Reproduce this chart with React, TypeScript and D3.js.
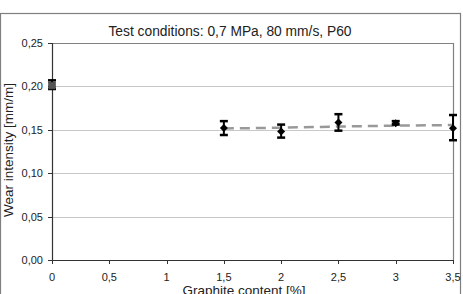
import React from "react";
import * as d3 from "d3";

const title = "Test conditions: 0,7 MPa, 80 mm/s, P60";
const xLabel = "Graphite content [%]";
const yLabel = "Wear intensity [mm/m]";

const xTicks = [0, 0.5, 1, 1.5, 2, 2.5, 3, 3.5];
const yTicks = [0, 0.05, 0.1, 0.15, 0.2, 0.25];

// reference sample (no graphite)
const refX = [0];
const refY = [0.201];
const refLow = [0.197];
const refHigh = [0.207];

// graphite samples
const gX = [1.5, 2, 2.5, 3, 3.5];
const gY = [0.152, 0.148, 0.1585, 0.1575, 0.1517];
const gLow = [0.144, 0.141, 0.149, 0.156, 0.138];
const gHigh = [0.160, 0.156, 0.168, 0.160, 0.167];

// trend line values
const trendX = [1.5, 2, 2.5, 3, 3.5];
const trendY = [0.1515, 0.1524, 0.1538, 0.1548, 0.1555];

const fmt = (v: number) => v.toFixed(2).replace(".", ",");
const fmtX = (v: number) => String(v).replace(".", ",");

export default function App() {
  const W = 463, H = 294;
  const L = 52, R = 453, T = 43, B = 260;
  const x = d3.scaleLinear().domain([0, 3.5]).range([L, R]);
  const y = d3.scaleLinear().domain([0, 0.25]).range([B, T]);
  const font = "Liberation Sans, Arial, sans-serif";

  const line = d3.line<number>().x((_, i) => x(trendX[i])).y((d) => y(d));

  const errBar = (xv: number, lo: number, hi: number, key: string) => {
    const cx = x(xv);
    return (
      <g key={key} stroke="#000" strokeWidth={2}>
        <line x1={cx} x2={cx} y1={y(lo)} y2={y(hi)} />
        <line x1={cx - 4} x2={cx + 4} y1={y(lo)} y2={y(lo)} strokeWidth={2.5} />
        <line x1={cx - 4} x2={cx + 4} y1={y(hi)} y2={y(hi)} strokeWidth={2.5} />
      </g>
    );
  };

  return (
    <svg width={W} height={H} style={{ position: "absolute", left: 0, top: 0, background: "#fff" }} fontFamily={font}>
      <rect x={0.5} y={13.5} width={460} height={300} fill="#fff" stroke="#7f7f7f" strokeWidth={1.2} />
      {/* gridlines */}
      {yTicks.filter((t) => t > 0 && t < 0.25).map((t) => (
        <line key={t} x1={L} x2={R} y1={Math.round(y(t)) + 0.5} y2={Math.round(y(t)) + 0.5} stroke="#c8c8c8" strokeWidth={1} />
      ))}
      {/* plot border top/right */}
      <path d={`M${L},${T + 0.5}H${R + 0.5}V${B}`} fill="none" stroke="#808080" strokeWidth={1.2} />
      {/* axes */}
      <line x1={L + 0.5} x2={L + 0.5} y1={T} y2={B} stroke="#333" strokeWidth={1.2} />
      <line x1={L} x2={R + 1} y1={B + 0.5} y2={B + 0.5} stroke="#333" strokeWidth={1.2} />
      {yTicks.map((t) => (
        <g key={t}>
          <line x1={L - 4} x2={L} y1={Math.round(y(t)) + 0.5} y2={Math.round(y(t)) + 0.5} stroke="#333" />
          <text x={43} y={y(t) + 4} fontSize={11} textAnchor="end" fill="#222">{fmt(t)}</text>
        </g>
      ))}
      {xTicks.map((t) => (
        <g key={t}>
          <line x1={Math.round(x(t)) + 0.5} x2={Math.round(x(t)) + 0.5} y1={B} y2={B + 4} stroke="#333" />
          <text x={x(t)} y={280.5} fontSize={11} textAnchor="middle" fill="#222">{fmtX(t)}</text>
        </g>
      ))}
      <text x={230} y={36} fontSize={13.8} textAnchor="middle" fill="#222">{title}</text>
      <text x={244} y={294.5} fontSize={13.5} textAnchor="middle" fill="#222">{xLabel}</text>
      <text transform={`translate(13,150) rotate(-90)`} fontSize={13.5} textAnchor="middle" fill="#222">{yLabel}</text>
      {/* trend line */}
      <path d={line(trendY) || ""} fill="none" stroke="#999" strokeWidth={2.5} strokeDasharray="10,6" />
      {/* error bars */}
      {refX.map((v, i) => errBar(v, refLow[i], refHigh[i], "r" + i))}
      {gX.map((v, i) => errBar(v, gLow[i], gHigh[i], "g" + i))}
      {/* markers */}
      {refX.map((v, i) => (
        <rect key={"rm" + i} x={x(v) - 3.5} y={y(refY[i]) - 3.5} width={7} height={7} fill="#555" stroke="#333" strokeWidth={0.5} />
      ))}
      {gX.map((v, i) => {
        const cx = x(v), cy = y(gY[i]);
        return <path key={"gm" + i} d={`M${cx},${cy - 4}L${cx + 4},${cy}L${cx},${cy + 4}L${cx - 4},${cy}Z`} fill="#000" />;
      })}
    </svg>
  );
}
